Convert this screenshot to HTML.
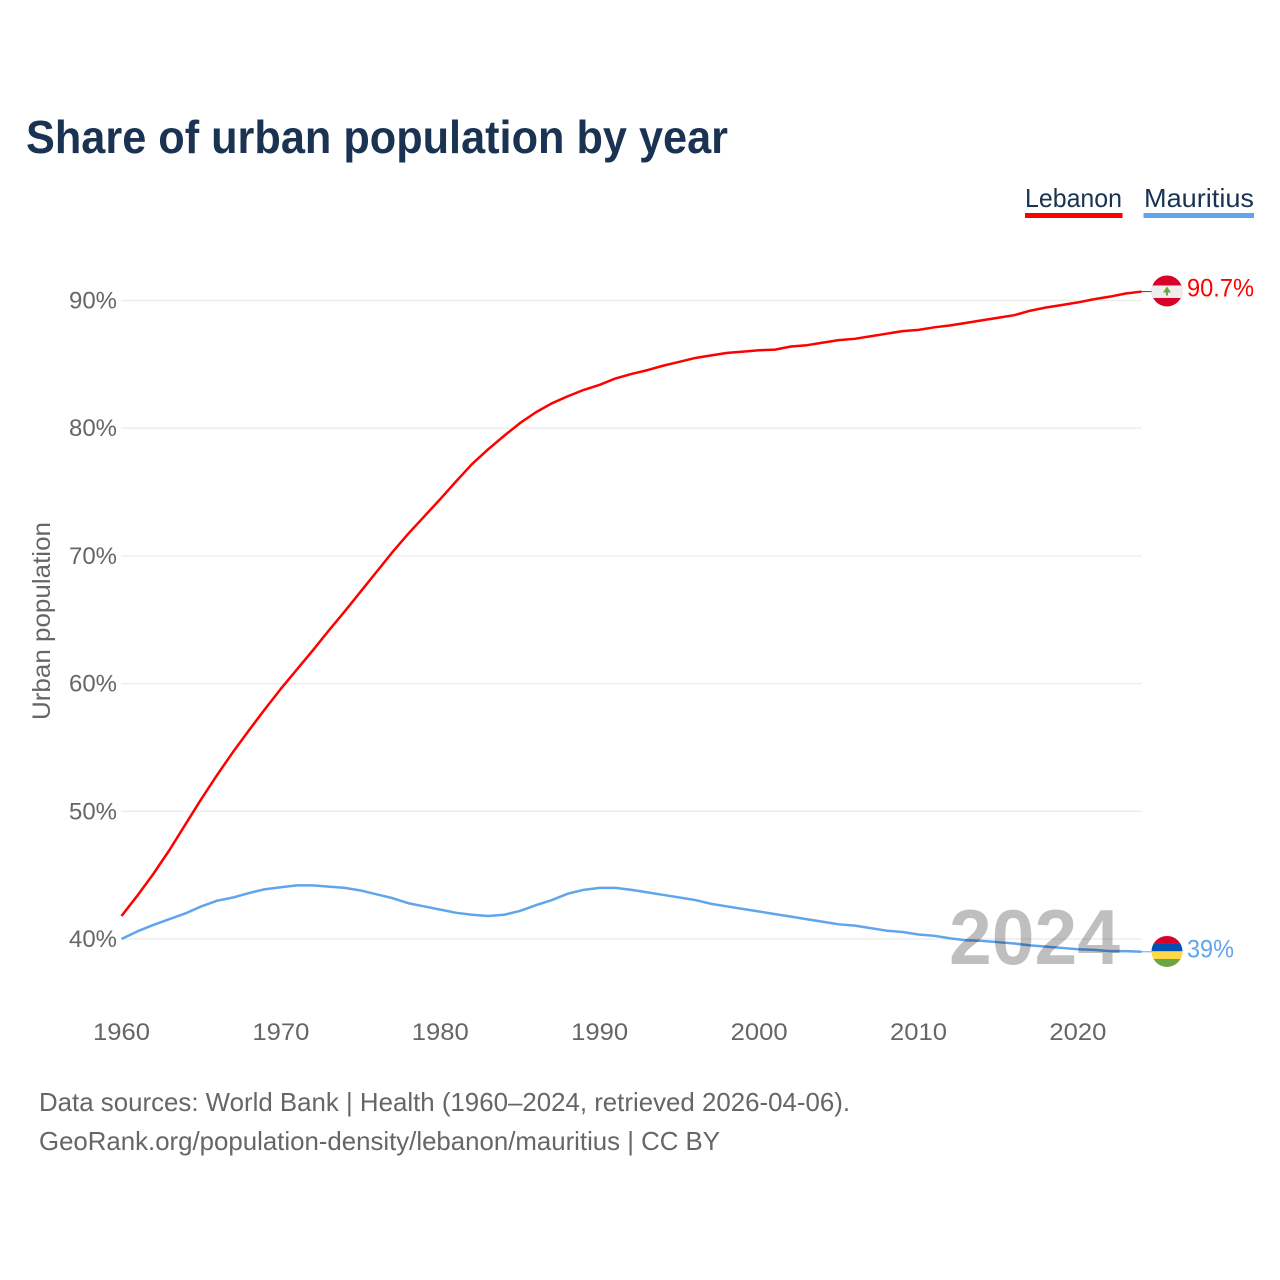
<!DOCTYPE html>
<html lang="en">
<head>
<meta charset="utf-8">
<title>Share of urban population by year</title>
<style>
html,body{margin:0;padding:0;background:#fff;}
svg{display:block;}
text{font-family:"Liberation Sans",sans-serif;}
</style>
</head>
<body>
<svg id="chart" xmlns="http://www.w3.org/2000/svg" width="1280" height="1280" viewBox="0 0 1280 1280">
  <rect width="1280" height="1280" fill="#fff"/>
  <defs>
    <clipPath id="flag-clip"><circle cx="0" cy="0" r="15.5"/></clipPath>
  </defs>
  <text x="26" y="153" font-size="46" font-weight="700" fill="#1a3353" textLength="702" lengthAdjust="spacingAndGlyphs">Share of urban population by year</text>

  <text x="1025" y="207" font-size="26" fill="#1a3353" textLength="97" lengthAdjust="spacingAndGlyphs">Lebanon</text>
  <rect x="1025" y="213" width="97.5" height="5" fill="#ff0000"/>
  <text x="1144" y="207" font-size="26" fill="#1a3353" textLength="110" lengthAdjust="spacingAndGlyphs">Mauritius</text>
  <rect x="1143.5" y="213" width="110.5" height="5" fill="#60a5ec"/>

  <text transform="translate(50,720) rotate(-90)" x="0" y="0" font-size="25" fill="#666" textLength="198" lengthAdjust="spacingAndGlyphs">Urban population</text>

  <g id="grid"></g>
  <g id="y-ticks"></g>
  <g id="x-ticks"></g>
  <g id="lines"></g>

  <text x="949" y="964" font-size="78" font-weight="700" fill="#000" fill-opacity="0.25" textLength="171" lengthAdjust="spacingAndGlyphs">2024</text>

  <g id="flag-lebanon">
    <g clip-path="url(#flag-clip)">
      <rect x="-16" y="-16" width="32" height="32" fill="#d9002a"/>
      <rect x="-16" y="-5.5" width="32" height="12.5" fill="#eeeeee"/>
      <polygon points="0,-4.5 4,1.5 1,1.5 1,4.5 -1,4.5 -1,1.5 -4,1.5" fill="#6da544"/>
    </g>
  </g>
  <g id="flag-mauritius">
    <g clip-path="url(#flag-clip)">
      <rect x="-16" y="-16" width="32" height="8.2" fill="#d9002a"/>
      <rect x="-16" y="-7.9" width="32" height="7.8" fill="#0052b4"/>
      <rect x="-16" y="-0.2" width="32" height="7.8" fill="#ffda44"/>
      <rect x="-16" y="7.5" width="32" height="8.5" fill="#6da544"/>
    </g>
  </g>
  <text id="value-lebanon" x="1187" y="296" font-size="25" fill="#ff0000" textLength="67" lengthAdjust="spacingAndGlyphs"></text>
  <text id="value-mauritius" x="1187" y="957" font-size="25" fill="#60a5ec" textLength="47" lengthAdjust="spacingAndGlyphs"></text>

  <text x="39" y="1111" font-size="26" fill="#666" textLength="811" lengthAdjust="spacingAndGlyphs">Data sources: World Bank | Health (1960–2024, retrieved 2026-04-06).</text>
  <text x="39" y="1150" font-size="26" fill="#666" textLength="681" lengthAdjust="spacingAndGlyphs">GeoRank.org/population-density/lebanon/mauritius | CC BY</text>
</svg>
<script>
const startYear = 1960;
const yTicks = [40, 50, 60, 70, 80, 90];
const xTicks = [1960, 1970, 1980, 1990, 2000, 2010, 2020];
const lebanonValues = [41.8,43.4,45.1,46.95,48.95,50.95,52.85,54.65,56.35,58.0,59.6,61.1,62.6,64.15,65.65,67.2,68.75,70.3,71.75,73.1,74.45,75.85,77.2,78.35,79.4,80.4,81.25,81.95,82.5,83.0,83.4,83.9,84.25,84.55,84.9,85.2,85.5,85.7,85.9,86.0,86.1,86.15,86.4,86.5,86.7,86.9,87.0,87.2,87.4,87.6,87.7,87.9,88.05,88.25,88.45,88.65,88.85,89.2,89.45,89.65,89.85,90.1,90.3,90.55,90.7];
const mauritiusValues = [40.0,40.6,41.1,41.55,42.0,42.55,43.0,43.25,43.6,43.9,44.05,44.2,44.2,44.1,44.0,43.8,43.5,43.2,42.8,42.55,42.3,42.05,41.9,41.8,41.9,42.2,42.65,43.05,43.55,43.85,44.0,44.0,43.85,43.65,43.45,43.25,43.05,42.75,42.55,42.35,42.15,41.95,41.75,41.55,41.35,41.15,41.05,40.85,40.65,40.55,40.35,40.25,40.05,39.9,39.85,39.75,39.65,39.5,39.4,39.3,39.2,39.15,39.05,39.05,39.0];

const NS = 'http://www.w3.org/2000/svg';
const xScale = function (year) { return 121.5 + (year - 1960) * 15.94; };
const yScale = function (v) { return 939 - (v - 40) * 12.77; };
const node = function (tag, parent) {
  const el = document.createElementNS(NS, tag);
  parent.appendChild(el);
  return el;
};

const gridGroup = document.getElementById('grid');
const yTickGroup = document.getElementById('y-ticks');
yTicks.forEach(function (t) {
  const line = node('line', gridGroup);
  
  
  line.setAttribute('x1', 121);
  line.setAttribute('x2', 1141.5);
  line.setAttribute('y1', yScale(t));
  line.setAttribute('y2', yScale(t));
  line.setAttribute('stroke', '#ebebeb');
  line.setAttribute('stroke-width', '1.3');
  const label = node('text', yTickGroup);
  
  
  label.setAttribute('x', 69);
  label.setAttribute('y', yScale(t) + 8);
  label.setAttribute('font-size', '24.5');
  label.setAttribute('fill', '#666');
  label.setAttribute('textLength', '48');
  label.setAttribute('lengthAdjust', 'spacingAndGlyphs');
  label.textContent = t + '%';
});

const xTickGroup = document.getElementById('x-ticks');
xTicks.forEach(function (t) {
  const label = node('text', xTickGroup);
  
  
  label.setAttribute('x', xScale(t) - 28.5);
  label.setAttribute('y', 1040);
  label.setAttribute('font-size', '24.5');
  label.setAttribute('fill', '#666');
  label.setAttribute('textLength', '57');
  label.setAttribute('lengthAdjust', 'spacingAndGlyphs');
  label.textContent = t;
});

const lineGroup = document.getElementById('lines');
const drawSeries = function (values, color, name, leaderName) {
  const pts = values.map(function (v, i) {
    return xScale(startYear + i).toFixed(2) + ',' + yScale(v).toFixed(2);
  }).join(' ');
  const poly = node('polyline', lineGroup);
  
  
  poly.setAttribute('points', pts);
  poly.setAttribute('fill', 'none');
  poly.setAttribute('stroke', color);
  poly.setAttribute('stroke-width', '2.5');
  poly.setAttribute('stroke-linejoin', 'round');
  const lastY = yScale(values[values.length - 1]);
  const leader = node('line', lineGroup);
  
  
  leader.setAttribute('x1', xScale(startYear + values.length - 1));
  leader.setAttribute('x2', 1152);
  leader.setAttribute('y1', lastY);
  leader.setAttribute('y2', lastY);
  leader.setAttribute('stroke', color);
  leader.setAttribute('stroke-width', '1');
};
drawSeries(lebanonValues, '#ff0000', 'line-lebanon', 'leader-lebanon');
drawSeries(mauritiusValues, '#60a5ec', 'line-mauritius', 'leader-mauritius');

const lastLebanon = lebanonValues[lebanonValues.length - 1];
const lastMauritius = mauritiusValues[mauritiusValues.length - 1];
document.getElementById('flag-lebanon').setAttribute('transform', 'translate(1167,' + (yScale(lastLebanon) - 0.6) + ')');
document.getElementById('flag-mauritius').setAttribute('transform', 'translate(1167,' + (yScale(lastMauritius) - 0.3) + ')');
const valueLebanon = document.getElementById('value-lebanon');
valueLebanon.textContent = lastLebanon + '%';
valueLebanon.setAttribute('y', yScale(lastLebanon) + 5);
const valueMauritius = document.getElementById('value-mauritius');
valueMauritius.textContent = lastMauritius + '%';
valueMauritius.setAttribute('y', yScale(lastMauritius) + 5.7);
</script>
</body>
</html>
